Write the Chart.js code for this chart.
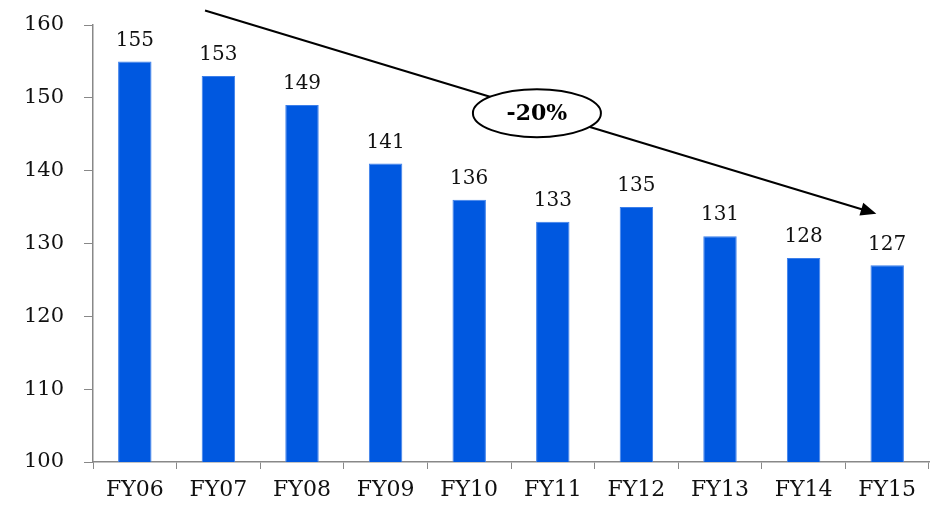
<!DOCTYPE html>
<html>
<head>
<meta charset="utf-8">
<script src="https://cdn.jsdelivr.net/npm/chart.js@4/dist/chart.umd.min.js"></script>
<style>
  html, body { margin: 0; padding: 0; background: #fff; }
  #wrap { width: 941px; height: 506px; }
</style>
</head>
<body>
<div id="wrap"><canvas id="fyChart"></canvas></div>
<script>
var years = ['FY06', 'FY07', 'FY08', 'FY09', 'FY10', 'FY11', 'FY12', 'FY13', 'FY14', 'FY15'];
var values = [155, 153, 149, 141, 136, 133, 135, 131, 128, 127];
var yTicks = [100, 110, 120, 130, 140, 150, 160];
var changeLabel = '-20%';

// trend arrow, in data units (category index, value)
var arrowFrom = [0.84, 162];
var arrowTo = [8.87, 134.1];
var badgeAt = [4.81, 147.9];

var serif = '"DejaVu Serif", "Liberation Serif", serif';

// values above the bars
var barLabels = {
  id: 'barLabels',
  afterDatasetsDraw: function (chart) {
    var ctx = chart.ctx;
    var meta = chart.getDatasetMeta(0);
    ctx.save();
    ctx.font = '20px ' + serif;
    ctx.fillStyle = '#111';
    ctx.textAlign = 'center';
    ctx.textBaseline = 'bottom';
    meta.data.forEach(function (bar, i) {
      ctx.fillText(values[i], bar.x, bar.y - 11);
    });
    ctx.restore();
  }
};

// arrow with the ellipse badge
var trendArrow = {
  id: 'trendArrow',
  afterDraw: function (chart) {
    var ctx = chart.ctx;
    var xs = chart.scales.x, ys = chart.scales.y;
    var x1 = xs.getPixelForValue(arrowFrom[0]), y1 = ys.getPixelForValue(arrowFrom[1]);
    var x2 = xs.getPixelForValue(arrowTo[0]), y2 = ys.getPixelForValue(arrowTo[1]);
    var ang = Math.atan2(y2 - y1, x2 - x1);
    var head = 17;
    ctx.save();
    ctx.strokeStyle = '#000';
    ctx.fillStyle = '#000';
    ctx.lineWidth = 2;
    ctx.beginPath();
    ctx.moveTo(x1, y1);
    ctx.lineTo(x2 - Math.cos(ang) * head * 0.8, y2 - Math.sin(ang) * head * 0.8);
    ctx.stroke();
    ctx.beginPath();
    ctx.moveTo(x2, y2);
    ctx.lineTo(x2 - head * Math.cos(ang - 0.4), y2 - head * Math.sin(ang - 0.4));
    ctx.lineTo(x2 - head * Math.cos(ang + 0.4), y2 - head * Math.sin(ang + 0.4));
    ctx.closePath();
    ctx.fill();

    var cx = xs.getPixelForValue(badgeAt[0]), cy = ys.getPixelForValue(badgeAt[1]);
    ctx.beginPath();
    ctx.ellipse(cx, cy, 64, 24, 0, 0, Math.PI * 2);
    ctx.fillStyle = '#fff';
    ctx.fill();
    ctx.lineWidth = 2;
    ctx.stroke();
    ctx.fillStyle = '#000';
    ctx.font = 'bold 22px ' + serif;
    ctx.textAlign = 'center';
    ctx.textBaseline = 'middle';
    ctx.fillText(changeLabel, cx, cy + 1);
    ctx.restore();
  }
};

new Chart(document.getElementById('fyChart'), {
  type: 'bar',
  data: {
    labels: years,
    datasets: [{
      data: values,
      backgroundColor: '#0058E0',
      borderColor: '#3C7FEA',
      borderWidth: 1,
      barPercentage: 0.4,
      categoryPercentage: 1.0
    }]
  },
  options: {
    responsive: true,
    maintainAspectRatio: false,
    animation: false,
    layout: { padding: { top: 25, right: 12, left: 0, bottom: 0 } },
    plugins: {
      legend: { display: false },
      tooltip: { enabled: false }
    },
    scales: {
      x: {
        offset: true,
        grid: {
          offset: true,
          drawOnChartArea: false,
          drawTicks: true,
          tickLength: 7,
          color: '#888'
        },
        border: { display: true, color: '#888', width: 1.5 },
        ticks: {
          color: '#111',
          font: { family: serif, size: 22 },
          padding: 8,
          maxRotation: 0
        },
        afterFit: function (scale) {
          scale.height = 44;
          scale.paddingLeft = 0;
          scale.paddingRight = 0;
        }
      },
      y: {
        min: 100,
        max: 160,
        afterBuildTicks: function (scale) {
          scale.ticks = yTicks.map(function (v) { return { value: v }; });
        },
        grid: {
          drawOnChartArea: false,
          drawTicks: true,
          tickLength: 9,
          color: '#888'
        },
        border: { display: true, color: '#888', width: 1.5 },
        ticks: {
          color: '#111',
          font: { family: serif, size: 21 },
          padding: 20
        },
        afterFit: function (scale) {
          scale.width = 93;
          scale.paddingTop = 0;
          scale.paddingBottom = 0;
        }
      }
    }
  },
  plugins: [barLabels, trendArrow]
});
</script>
</body>
</html>
